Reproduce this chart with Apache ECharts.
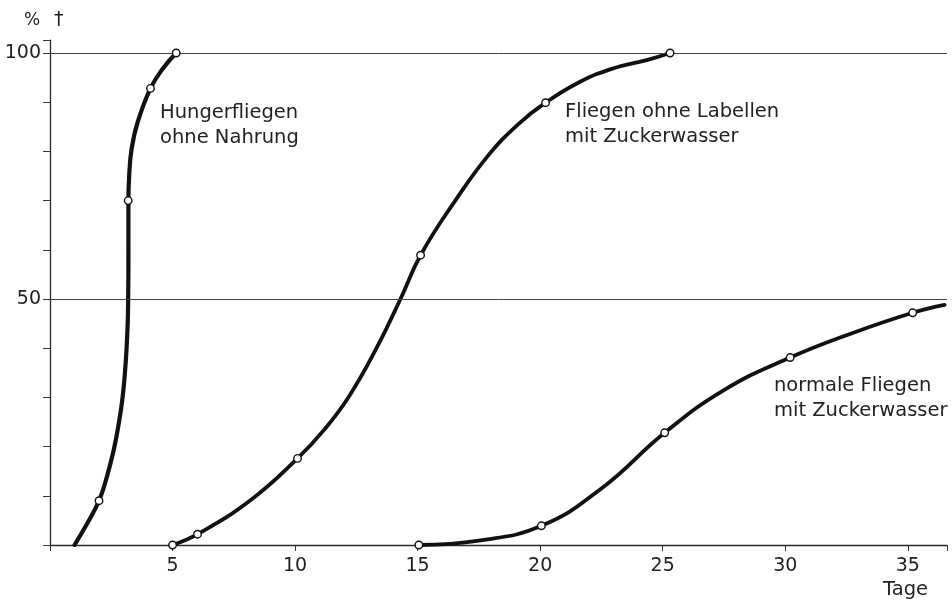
<!DOCTYPE html>
<html>
<head>
<meta charset="utf-8">
<script src="https://cdn.jsdelivr.net/npm/echarts@6/dist/echarts.min.js"></script>
<style>
html,body{margin:0;padding:0;background:#fff;}
#chart{width:952px;height:603px;}
</style>
</head>
<body>
<div id="chart"></div>
<script>
// Traced curves (Tage, % gestorben)
const hungerCurve = [[1.0,0],[1.5,4.2],[2.0,9],[2.3,13.5],[2.6,19.3],[2.8,24.5],[2.95,29.5],[3.05,34.5],[3.12,39.6],[3.17,45],[3.19,50],[3.2,60],[3.2,70],[3.23,75],[3.33,80.5],[3.58,86],[4.1,92.8],[4.6,96.8],[5.15,100]];
const hungerPoints = [[2.0,9],[3.19,70],[4.1,92.8],[5.15,100]];

const labellenCurve = [[5.0,0],[6.02,2.2],[8.18,9.1],[10.1,17.6],[11.2,23.5],[12.2,30.2],[13.3,39.8],[14.3,50],[15.12,58.9],[16.55,70.1],[17.9,79.3],[19.1,85.5],[20.22,89.9],[21.65,94.2],[23.0,96.9],[24.38,98.6],[25.3,100]];
const labellenPoints = [[5.0,0],[6.02,2.2],[10.1,17.6],[15.12,58.9],[20.22,89.9],[25.3,100]];

const normalCurve = [[15.05,0],[17.5,0.9],[20.05,3.9],[22.5,11.5],[25.08,22.8],[27.5,31.5],[30.2,38.1],[32.7,43.0],[35.2,47.2],[36.5,48.8]];
const normalPoints = [[15.05,0],[20.05,3.9],[25.08,22.8],[30.2,38.1],[35.2,47.2]];

const xTicks = [5,10,15,20,25,30,35];
const yTickLabels = [50,100];
const refLines = [50,100];

const FONT = '"DejaVu Sans", sans-serif';
const INK = '#111';

const chart = echarts.init(document.getElementById('chart'), null, {renderer:'canvas'});

function curveSeries(data, width){
  return {type:'line', data:data, smooth:0.45, symbol:'none', silent:true,
    lineStyle:{color:INK, width:width, cap:'round', join:'round'}, z:3};
}
function pointSeries(data){
  return {type:'scatter', data:data, symbol:'circle', symbolSize:7.5, silent:true,
    itemStyle:{color:'#fff', borderColor:INK, borderWidth:1.4, opacity:1}, z:5};
}

const option = {
  animation:false,
  backgroundColor:'#fff',
  grid:{left:50, right:5, top:40.2, bottom:58, containLabel:false},
  xAxis:{
    type:'value', min:0, max:36.6, interval:5,
    axisLine:{show:true, onZero:false, lineStyle:{color:'#2a2a2a', width:1.3}},
    axisTick:{show:true, length:6, lineStyle:{color:'#333', width:1}},
    axisLabel:{fontFamily:FONT, fontSize:19, color:'#222', margin:12,
      formatter:v => xTicks.includes(v) ? String(v) : ''},
    splitLine:{show:false}
  },
  yAxis:{
    type:'value', min:0, max:102.6, interval:10,
    axisLine:{show:true, lineStyle:{color:'#2a2a2a', width:1.3}},
    axisTick:{show:true, length:7, lineStyle:{color:'#333', width:1}},
    axisLabel:{fontFamily:FONT, fontSize:19, color:'#222', margin:9,
      formatter:v => yTickLabels.includes(v) ? String(v) : ''},
    splitLine:{show:false}
  },
  series:[
    {type:'line', data:[], silent:true,
      markLine:{silent:true, symbol:'none', label:{show:false},
        lineStyle:{type:'solid', color:'#444', width:1},
        data:refLines.map(v => ({yAxis:v}))}},
    curveSeries(hungerCurve, 4.2),
    curveSeries(labellenCurve, 3.8),
    curveSeries(normalCurve, 3.8),
    pointSeries(hungerPoints),
    pointSeries(labellenPoints),
    pointSeries(normalPoints)
  ],
  graphic:[
    {type:'text', left:24, top:12, style:{text:'%', font:'17px '+FONT, fill:'#222'}},
    {type:'text', left:54, top:11, style:{text:'†', font:'19px '+FONT, fill:'#222'}},
    {type:'text', left:160, top:100, style:{text:'Hungerfliegen\nohne Nahrung', font:'19.5px '+FONT, fill:'#222', lineHeight:25}},
    {type:'text', left:565, top:99, style:{text:'Fliegen ohne Labellen\nmit Zuckerwasser', font:'19.5px '+FONT, fill:'#222', lineHeight:25}},
    {type:'text', left:774, top:373, style:{text:'normale Fliegen\nmit Zuckerwasser', font:'19.5px '+FONT, fill:'#222', lineHeight:25}},
    {type:'text', left:883, top:580, style:{text:'Tage', font:'19.5px '+FONT, fill:'#222'}}
  ]
};
chart.setOption(option);
</script>
</body>
</html>
